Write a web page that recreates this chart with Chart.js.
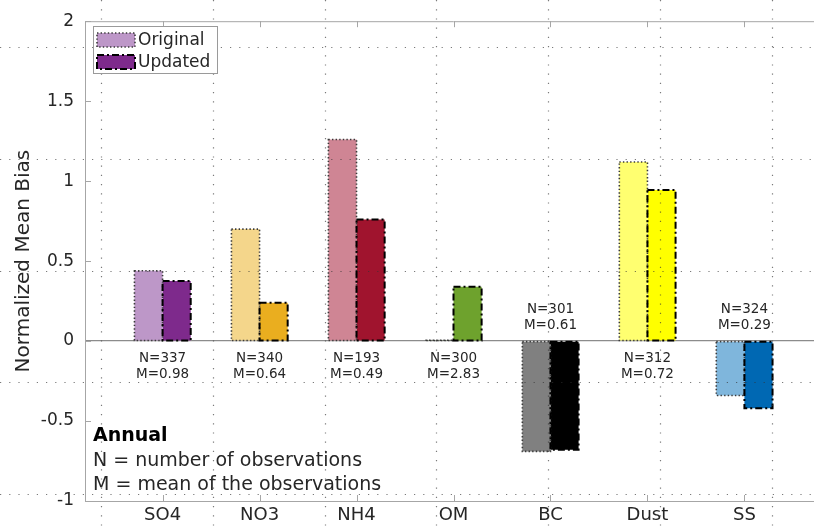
<!DOCTYPE html>
<html>
<head>
<meta charset="utf-8">
<script src="https://cdn.jsdelivr.net/npm/chart.js@4.4.0/dist/chart.umd.min.js"></script>
<style>
  html, body { margin: 0; padding: 0; background: #fff; overflow: hidden; }
  #wrap { width: 840px; height: 527px; position: relative; }
</style>
</head>
<body>
<div id="wrap"><canvas id="chart"></canvas></div>
<script>
'use strict';

// data
const categories = ['SO4', 'NO3', 'NH4', 'OM', 'BC', 'Dust', 'SS'];
const originalValues = [0.44, 0.70, 1.26, 0.005, -0.69, 1.12, -0.34];
const updatedValues = [0.375, 0.24, 0.76, 0.34, -0.68, 0.945, -0.42];
const obsCounts = [337, 340, 193, 300, 301, 312, 324];
const obsMeans = ['0.98', '0.64', '0.49', '2.83', '0.61', '0.72', '0.29'];
const yTicks = [-1, -0.5, 0, 0.5, 1, 1.5, 2];

const originalColors = ['#BD97C8', '#F4D68B', '#CF8594', '#B8D79A', '#808080', '#FFFF70', '#7FB6DC'];
const updatedColors = ['#7E2A8C', '#EAAE1F', '#A0142E', '#6EA22D', '#000000', '#FFFF00', '#0068B3'];

const FONT = "'DejaVu Sans', sans-serif";
const TEXT = '#262626';
const AXIS = '#a6a6a6';

// line style of the bar outlines, per series
const outlineStyles = [
    { dash: [1.4, 2.2], width: 1.6, color: '#3a3a3a' },
    { dash: [7, 3, 2, 3], width: 2, color: '#000000' }
];

function toPoints(values) {
    return values.map((v, i) => ({ x: i + 1, y: v }));
}

const decorPlugin = {
    id: 'decor',
    afterDatasetsDraw(chart) {
        const ctx = chart.ctx;
        chart.data.datasets.forEach((ds, di) => {
            const st = outlineStyles[di];
            chart.getDatasetMeta(di).data.forEach(bar => {
                const p = bar.getProps(['x', 'y', 'base', 'width'], true);
                const top = Math.min(p.y, p.base);
                const h = Math.abs(p.base - p.y);
                ctx.save();
                ctx.setLineDash(st.dash);
                ctx.lineWidth = st.width;
                ctx.strokeStyle = st.color;
                ctx.strokeRect(p.x - p.width / 2, top, p.width, h);
                ctx.restore();
            });
        });
    },
    afterDraw(chart) {
        const ctx = chart.ctx;
        const area = chart.chartArea;
        const xs = chart.scales.x;
        const ys = chart.scales.y;
        ctx.save();

        // box top line + inward ticks
        ctx.strokeStyle = AXIS;
        ctx.lineWidth = 1;
        ctx.beginPath();
        ctx.moveTo(area.left, area.top + 0.5);
        ctx.lineTo(area.right, area.top + 0.5);
        categories.forEach((c, i) => {
            const px = Math.round(xs.getPixelForValue(i + 1)) + 0.5;
            ctx.moveTo(px, area.bottom);
            ctx.lineTo(px, area.bottom - 6);
            ctx.moveTo(px, area.top);
            ctx.lineTo(px, area.top + 6);
        });
        yTicks.forEach(v => {
            const py = Math.round(ys.getPixelForValue(v)) + 0.5;
            ctx.moveTo(area.left, py);
            ctx.lineTo(area.left + 6, py);
        });
        ctx.stroke();

        // N / M annotations
        ctx.fillStyle = TEXT;
        ctx.font = '13.5px ' + FONT;
        ctx.textAlign = 'center';
        ctx.textBaseline = 'middle';
        const y0 = ys.getPixelForValue(0);
        categories.forEach((c, i) => {
            const px = xs.getPixelForValue(i + 1);
            const below = originalValues[i] >= 0 && updatedValues[i] >= 0;
            const l1 = below ? y0 + 17 : y0 - 32;
            ctx.fillText('N=' + obsCounts[i], px, l1);
            ctx.fillText('M=' + obsMeans[i], px, l1 + 16);
        });

        // note block, bottom left
        ctx.textAlign = 'left';
        ctx.font = 'bold 19px ' + FONT;
        ctx.fillStyle = '#000';
        ctx.fillText('Annual', 93, 436);
        ctx.font = '19px ' + FONT;
        ctx.fillStyle = TEXT;
        ctx.fillText('N = number of observations', 93, 461);
        ctx.fillText('M = mean of the observations', 93, 485);

        // dotted overlay grid (offset from the axes, as in the figure)
        ctx.strokeStyle = 'rgba(50,50,50,0.65)';
        ctx.lineWidth = 1.2;
        ctx.setLineDash([1.2, 8]);
        ctx.beginPath();
        for (let gx = 101; gx < chart.width; gx += 111.8) {
            ctx.moveTo(Math.round(gx) + 0.5, 0);
            ctx.lineTo(Math.round(gx) + 0.5, chart.height);
        }
        for (let gy = 47; gy < chart.height; gy += 111.8) {
            ctx.moveTo(0, Math.round(gy) + 0.5);
            ctx.lineTo(chart.width, Math.round(gy) + 0.5);
        }
        ctx.stroke();
        ctx.setLineDash([]);

        // legend
        ctx.fillStyle = '#fff';
        ctx.fillRect(93, 26, 124, 47);
        ctx.strokeStyle = '#9a9a9a';
        ctx.lineWidth = 1;
        ctx.strokeRect(93.5, 26.5, 124, 47);
        const legendItems = [
            { text: 'Original', fill: originalColors[0], st: outlineStyles[0], y: 33 },
            { text: 'Updated', fill: updatedColors[0], st: outlineStyles[1], y: 55 }
        ];
        legendItems.forEach(it => {
            ctx.fillStyle = it.fill;
            ctx.fillRect(97, it.y, 38, 14);
            ctx.setLineDash(it.st.dash);
            ctx.lineWidth = it.st.width;
            ctx.strokeStyle = it.st.color;
            ctx.strokeRect(97, it.y, 38, 14);
            ctx.setLineDash([]);
            ctx.fillStyle = TEXT;
            ctx.font = '17px ' + FONT;
            ctx.textBaseline = 'middle';
            ctx.fillText(it.text, 138, it.y + 8);
        });

        ctx.restore();
    }
};

new Chart(document.getElementById('chart'), {
    type: 'bar',
    data: {
        datasets: [
            {
                label: 'Original',
                data: toPoints(originalValues),
                backgroundColor: originalColors,
                borderWidth: 0
            },
            {
                label: 'Updated',
                data: toPoints(updatedValues),
                backgroundColor: updatedColors,
                borderWidth: 0
            }
        ]
    },
    options: {
        responsive: true,
        maintainAspectRatio: false,
        animation: false,
        layout: { padding: { top: 17, right: 18, left: 0, bottom: 0 } },
        datasets: { bar: { categoryPercentage: 0.58, barPercentage: 1 } },
        plugins: { legend: { display: false }, tooltip: { enabled: false } },
        scales: {
            x: {
                type: 'linear',
                offset: false,
                min: 0.2,
                max: 7.8,
                afterBuildTicks: s => { s.ticks = categories.map((c, i) => ({ value: i + 1 })); },
                afterFit: s => { s.height = 26; },
                grid: { display: false, drawTicks: false, offset: false },
                border: { display: true, color: AXIS, width: 1 },
                ticks: {
                    autoSkip: false,
                    maxRotation: 0,
                    padding: 4,
                    color: TEXT,
                    font: { family: FONT, size: 18 },
                    callback: v => categories[v - 1]
                }
            },
            y: {
                min: -1,
                max: 2,
                afterBuildTicks: s => { s.ticks = yTicks.map(v => ({ value: v })); },
                afterFit: s => { s.width = 85; },
                grid: {
                    drawTicks: false,
                    color: c => (c.tick && c.tick.value === 0 ? '#8c8c8c' : 'rgba(0,0,0,0)'),
                    lineWidth: 1.2
                },
                border: { display: true, color: AXIS, width: 1 },
                ticks: {
                    padding: 11,
                    color: TEXT,
                    font: { family: FONT, size: 17 },
                    callback: v => String(v)
                },
                title: {
                    display: true,
                    text: 'Normalized Mean Bias',
                    color: TEXT,
                    font: { family: FONT, size: 20 },
                    padding: { top: 12, bottom: 0 }
                }
            }
        }
    },
    plugins: [decorPlugin]
});
</script>
</body>
</html>
